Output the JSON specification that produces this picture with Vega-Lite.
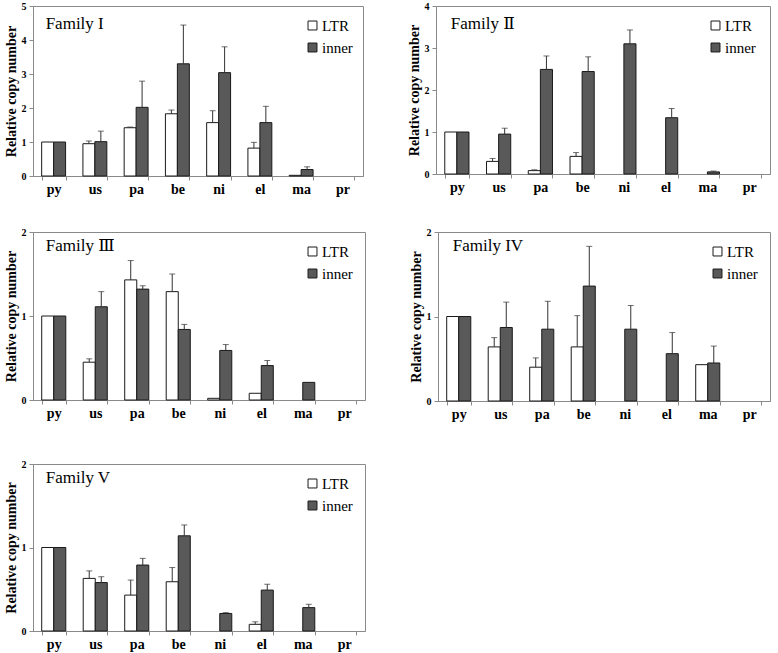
{
  "$schema": "https://vega.github.io/schema/vega-lite/v6.json",
  "background": "white",
  "padding": {"left": 3, "top": 0, "right": 5, "bottom": 0},
  "datasets": {
    "d": [
      {"family": "I", "cat": "py", "type": "LTR", "value": 1},
      {"family": "I", "cat": "py", "type": "inner", "value": 1},
      {"family": "I", "cat": "us", "type": "LTR", "value": 0.95, "hi": 1.03},
      {"family": "I", "cat": "us", "type": "inner", "value": 1.01, "hi": 1.32},
      {"family": "I", "cat": "pa", "type": "LTR", "value": 1.42, "hi": 1.44},
      {"family": "I", "cat": "pa", "type": "inner", "value": 2.02, "hi": 2.79},
      {"family": "I", "cat": "be", "type": "LTR", "value": 1.83, "hi": 1.94},
      {"family": "I", "cat": "be", "type": "inner", "value": 3.3, "hi": 4.44},
      {"family": "I", "cat": "ni", "type": "LTR", "value": 1.57, "hi": 1.92},
      {"family": "I", "cat": "ni", "type": "inner", "value": 3.04, "hi": 3.8},
      {"family": "I", "cat": "el", "type": "LTR", "value": 0.82, "hi": 0.99},
      {"family": "I", "cat": "el", "type": "inner", "value": 1.57, "hi": 2.05},
      {"family": "I", "cat": "ma", "type": "LTR", "value": 0.02},
      {"family": "I", "cat": "ma", "type": "inner", "value": 0.19, "hi": 0.27},
      {"family": "I", "cat": "pr", "type": "LTR", "value": 0},
      {"family": "I", "cat": "pr", "type": "inner", "value": 0},

      {"family": "II", "cat": "py", "type": "LTR", "value": 1},
      {"family": "II", "cat": "py", "type": "inner", "value": 1},
      {"family": "II", "cat": "us", "type": "LTR", "value": 0.3, "hi": 0.37},
      {"family": "II", "cat": "us", "type": "inner", "value": 0.95, "hi": 1.09},
      {"family": "II", "cat": "pa", "type": "LTR", "value": 0.08, "hi": 0.1},
      {"family": "II", "cat": "pa", "type": "inner", "value": 2.49, "hi": 2.81},
      {"family": "II", "cat": "be", "type": "LTR", "value": 0.42, "hi": 0.51},
      {"family": "II", "cat": "be", "type": "inner", "value": 2.44, "hi": 2.79},
      {"family": "II", "cat": "ni", "type": "LTR", "value": 0},
      {"family": "II", "cat": "ni", "type": "inner", "value": 3.1, "hi": 3.43},
      {"family": "II", "cat": "el", "type": "LTR", "value": 0},
      {"family": "II", "cat": "el", "type": "inner", "value": 1.34, "hi": 1.56},
      {"family": "II", "cat": "ma", "type": "LTR", "value": 0},
      {"family": "II", "cat": "ma", "type": "inner", "value": 0.05, "hi": 0.07},
      {"family": "II", "cat": "pr", "type": "LTR", "value": 0},
      {"family": "II", "cat": "pr", "type": "inner", "value": 0},

      {"family": "III", "cat": "py", "type": "LTR", "value": 1},
      {"family": "III", "cat": "py", "type": "inner", "value": 1},
      {"family": "III", "cat": "us", "type": "LTR", "value": 0.45, "hi": 0.49},
      {"family": "III", "cat": "us", "type": "inner", "value": 1.11, "hi": 1.29},
      {"family": "III", "cat": "pa", "type": "LTR", "value": 1.43, "hi": 1.66},
      {"family": "III", "cat": "pa", "type": "inner", "value": 1.32, "hi": 1.36},
      {"family": "III", "cat": "be", "type": "LTR", "value": 1.29, "hi": 1.5},
      {"family": "III", "cat": "be", "type": "inner", "value": 0.84, "hi": 0.9},
      {"family": "III", "cat": "ni", "type": "LTR", "value": 0.02},
      {"family": "III", "cat": "ni", "type": "inner", "value": 0.59, "hi": 0.66},
      {"family": "III", "cat": "el", "type": "LTR", "value": 0.08},
      {"family": "III", "cat": "el", "type": "inner", "value": 0.41, "hi": 0.47},
      {"family": "III", "cat": "ma", "type": "LTR", "value": 0},
      {"family": "III", "cat": "ma", "type": "inner", "value": 0.21},
      {"family": "III", "cat": "pr", "type": "LTR", "value": 0},
      {"family": "III", "cat": "pr", "type": "inner", "value": 0},

      {"family": "IV", "cat": "py", "type": "LTR", "value": 1},
      {"family": "IV", "cat": "py", "type": "inner", "value": 1},
      {"family": "IV", "cat": "us", "type": "LTR", "value": 0.64, "hi": 0.75},
      {"family": "IV", "cat": "us", "type": "inner", "value": 0.87, "hi": 1.17},
      {"family": "IV", "cat": "pa", "type": "LTR", "value": 0.4, "hi": 0.51},
      {"family": "IV", "cat": "pa", "type": "inner", "value": 0.85, "hi": 1.18},
      {"family": "IV", "cat": "be", "type": "LTR", "value": 0.64, "hi": 1.01},
      {"family": "IV", "cat": "be", "type": "inner", "value": 1.36, "hi": 1.83},
      {"family": "IV", "cat": "ni", "type": "LTR", "value": 0},
      {"family": "IV", "cat": "ni", "type": "inner", "value": 0.85, "hi": 1.13},
      {"family": "IV", "cat": "el", "type": "LTR", "value": 0},
      {"family": "IV", "cat": "el", "type": "inner", "value": 0.56, "hi": 0.81},
      {"family": "IV", "cat": "ma", "type": "LTR", "value": 0.43},
      {"family": "IV", "cat": "ma", "type": "inner", "value": 0.45, "hi": 0.65},
      {"family": "IV", "cat": "pr", "type": "LTR", "value": 0},
      {"family": "IV", "cat": "pr", "type": "inner", "value": 0},

      {"family": "V", "cat": "py", "type": "LTR", "value": 1},
      {"family": "V", "cat": "py", "type": "inner", "value": 1},
      {"family": "V", "cat": "us", "type": "LTR", "value": 0.63, "hi": 0.72},
      {"family": "V", "cat": "us", "type": "inner", "value": 0.58, "hi": 0.65},
      {"family": "V", "cat": "pa", "type": "LTR", "value": 0.43, "hi": 0.61},
      {"family": "V", "cat": "pa", "type": "inner", "value": 0.79, "hi": 0.87},
      {"family": "V", "cat": "be", "type": "LTR", "value": 0.59, "hi": 0.76},
      {"family": "V", "cat": "be", "type": "inner", "value": 1.14, "hi": 1.27},
      {"family": "V", "cat": "ni", "type": "LTR", "value": 0},
      {"family": "V", "cat": "ni", "type": "inner", "value": 0.21, "hi": 0.22},
      {"family": "V", "cat": "el", "type": "LTR", "value": 0.08, "hi": 0.11},
      {"family": "V", "cat": "el", "type": "inner", "value": 0.49, "hi": 0.56},
      {"family": "V", "cat": "ma", "type": "LTR", "value": 0},
      {"family": "V", "cat": "ma", "type": "inner", "value": 0.28, "hi": 0.32},
      {"family": "V", "cat": "pr", "type": "LTR", "value": 0},
      {"family": "V", "cat": "pr", "type": "inner", "value": 0}
    ]
  },
  "spacing": 36,
  "resolve": {"scale": {"x": "independent", "y": "independent", "color": "independent", "xOffset": "independent"}, "legend": {"color": "independent"}},
  "vconcat": [
    {
      "spacing": 29,
      "resolve": {"scale": {"x": "independent", "y": "independent", "color": "independent", "xOffset": "independent"}, "legend": {"color": "independent"}},
      "vconcat": [
        {
          "spacing": 42,
          "resolve": {"scale": {"x": "independent", "y": "independent", "color": "independent", "xOffset": "independent"}, "legend": {"color": "independent"}},
          "hconcat": [
            {
              "width": 330, "height": 170,
              "layer": [
                {"data": {"name": "d"}, "transform": [{"filter": "datum.family == 'I' && datum.value > 0"}],
                 "mark": {"type": "bar", "stroke": "#1a1a1a", "strokeWidth": 1},
                 "encoding": {
                   "x": {"field": "cat", "type": "nominal", "scale": {"domain": ["py", "us", "pa", "be", "ni", "el", "ma", "pr"], "paddingInner": 0.42, "paddingOuter": 0.21}},
                   "xOffset": {"field": "type", "type": "nominal", "scale": {"domain": ["LTR", "inner"], "paddingInner": 0, "paddingOuter": 0}},
                   "y": {"field": "value", "type": "quantitative", "scale": {"domain": [0, 5]}, "axis": {"values": [0, 1, 2, 3, 4, 5], "tickCount": 12, "labelExpr": "format(datum.value, 'd')", "labelOverlap": false, "title": "Relative copy number"}},
                   "color": {"field": "type", "type": "nominal", "scale": {"domain": ["LTR", "inner"], "range": ["white", "#595959"]}, "legend": {"title": null}}
                 }},
                {"data": {"name": "d"}, "transform": [{"filter": "datum.family == 'I' && datum.hi != null"}],
                 "mark": {"type": "rule", "color": "#333", "strokeWidth": 1},
                 "encoding": {
                   "x": {"field": "cat", "type": "nominal"},
                   "xOffset": {"field": "type", "type": "nominal"},
                   "y": {"field": "value", "type": "quantitative", "axis": {"values": [0, 1, 2, 3, 4, 5], "tickCount": 12, "labelExpr": "format(datum.value, 'd')", "labelOverlap": false, "title": "Relative copy number"}}, "y2": {"field": "hi"}}},
                {"data": {"name": "d"}, "transform": [{"filter": "datum.family == 'I' && datum.hi != null"}],
                 "mark": {"type": "tick", "color": "#333", "size": 6, "thickness": 1, "orient": "horizontal"},
                 "encoding": {
                   "x": {"field": "cat", "type": "nominal"},
                   "xOffset": {"field": "type", "type": "nominal"},
                   "y": {"field": "hi", "type": "quantitative", "axis": {"values": [0, 1, 2, 3, 4, 5], "tickCount": 12, "labelExpr": "format(datum.value, 'd')", "labelOverlap": false, "title": "Relative copy number"}}}},
                {"data": {"values": [{"label": "Family I"}]},
                 "mark": {"type": "text", "align": "left", "baseline": "middle", "fontSize": 17, "font": "Liberation Serif", "color": "black", "dx": 4},
                 "encoding": {"x": {"datum": "py", "type": "nominal", "bandPosition": 0}, "y": {"datum": 4.46, "type": "quantitative"}, "text": {"field": "label"}}}
              ]
            },
            {
              "width": 334, "height": 168,
              "layer": [
                {"data": {"name": "d"}, "transform": [{"filter": "datum.family == 'II' && datum.value > 0"}],
                 "mark": {"type": "bar", "stroke": "#1a1a1a", "strokeWidth": 1},
                 "encoding": {
                   "x": {"field": "cat", "type": "nominal", "scale": {"domain": ["py", "us", "pa", "be", "ni", "el", "ma", "pr"], "paddingInner": 0.42, "paddingOuter": 0.21}},
                   "xOffset": {"field": "type", "type": "nominal", "scale": {"domain": ["LTR", "inner"], "paddingInner": 0, "paddingOuter": 0}},
                   "y": {"field": "value", "type": "quantitative", "scale": {"domain": [0, 4]}, "axis": {"values": [0, 1, 2, 3, 4], "tickCount": 12, "labelExpr": "format(datum.value, 'd')", "labelOverlap": false, "title": "Relative copy number"}},
                   "color": {"field": "type", "type": "nominal", "scale": {"domain": ["LTR", "inner"], "range": ["white", "#595959"]}, "legend": {"title": null}}
                 }},
                {"data": {"name": "d"}, "transform": [{"filter": "datum.family == 'II' && datum.hi != null"}],
                 "mark": {"type": "rule", "color": "#333", "strokeWidth": 1},
                 "encoding": {
                   "x": {"field": "cat", "type": "nominal"},
                   "xOffset": {"field": "type", "type": "nominal"},
                   "y": {"field": "value", "type": "quantitative", "axis": {"values": [0, 1, 2, 3, 4], "tickCount": 12, "labelExpr": "format(datum.value, 'd')", "labelOverlap": false, "title": "Relative copy number"}}, "y2": {"field": "hi"}}},
                {"data": {"name": "d"}, "transform": [{"filter": "datum.family == 'II' && datum.hi != null"}],
                 "mark": {"type": "tick", "color": "#333", "size": 6, "thickness": 1, "orient": "horizontal"},
                 "encoding": {
                   "x": {"field": "cat", "type": "nominal"},
                   "xOffset": {"field": "type", "type": "nominal"},
                   "y": {"field": "hi", "type": "quantitative", "axis": {"values": [0, 1, 2, 3, 4], "tickCount": 12, "labelExpr": "format(datum.value, 'd')", "labelOverlap": false, "title": "Relative copy number"}}}},
                {"data": {"values": [{"label": "Family Ⅱ"}]},
                 "mark": {"type": "text", "align": "left", "baseline": "middle", "fontSize": 17, "font": "Liberation Serif, DejaVu Serif", "color": "black", "dx": 6},
                 "encoding": {"x": {"datum": "py", "type": "nominal", "bandPosition": 0}, "y": {"datum": 3.57, "type": "quantitative"}, "text": {"field": "label"}}}
              ]
            }
          ]
        },
        {
          "spacing": 42,
          "resolve": {"scale": {"x": "independent", "y": "independent", "color": "independent", "xOffset": "independent"}, "legend": {"color": "independent"}},
          "hconcat": [
            {
              "width": 332, "height": 168,
              "layer": [
                {"data": {"name": "d"}, "transform": [{"filter": "datum.family == 'III' && datum.value > 0"}],
                 "mark": {"type": "bar", "stroke": "#1a1a1a", "strokeWidth": 1},
                 "encoding": {
                   "x": {"field": "cat", "type": "nominal", "scale": {"domain": ["py", "us", "pa", "be", "ni", "el", "ma", "pr"], "paddingInner": 0.42, "paddingOuter": 0.21}},
                   "xOffset": {"field": "type", "type": "nominal", "scale": {"domain": ["LTR", "inner"], "paddingInner": 0, "paddingOuter": 0}},
                   "y": {"field": "value", "type": "quantitative", "scale": {"domain": [0, 2]}, "axis": {"values": [0, 1, 2], "tickCount": 12, "labelExpr": "format(datum.value, 'd')", "labelOverlap": false, "title": "Relative copy number"}},
                   "color": {"field": "type", "type": "nominal", "scale": {"domain": ["LTR", "inner"], "range": ["white", "#595959"]}, "legend": {"title": null}}
                 }},
                {"data": {"name": "d"}, "transform": [{"filter": "datum.family == 'III' && datum.hi != null"}],
                 "mark": {"type": "rule", "color": "#333", "strokeWidth": 1},
                 "encoding": {
                   "x": {"field": "cat", "type": "nominal"},
                   "xOffset": {"field": "type", "type": "nominal"},
                   "y": {"field": "value", "type": "quantitative", "axis": {"values": [0, 1, 2], "tickCount": 12, "labelExpr": "format(datum.value, 'd')", "labelOverlap": false, "title": "Relative copy number"}}, "y2": {"field": "hi"}}},
                {"data": {"name": "d"}, "transform": [{"filter": "datum.family == 'III' && datum.hi != null"}],
                 "mark": {"type": "tick", "color": "#333", "size": 6, "thickness": 1, "orient": "horizontal"},
                 "encoding": {
                   "x": {"field": "cat", "type": "nominal"},
                   "xOffset": {"field": "type", "type": "nominal"},
                   "y": {"field": "hi", "type": "quantitative", "axis": {"values": [0, 1, 2], "tickCount": 12, "labelExpr": "format(datum.value, 'd')", "labelOverlap": false, "title": "Relative copy number"}}}},
                {"data": {"values": [{"label": "Family Ⅲ"}]},
                 "mark": {"type": "text", "align": "left", "baseline": "middle", "fontSize": 17, "font": "Liberation Serif, DejaVu Serif", "color": "black", "dx": 4},
                 "encoding": {"x": {"datum": "py", "type": "nominal", "bandPosition": 0}, "y": {"datum": 1.83, "type": "quantitative"}, "text": {"field": "label"}}}
              ]
            },
            {
              "width": 332, "height": 169,
              "layer": [
                {"data": {"name": "d"}, "transform": [{"filter": "datum.family == 'IV' && datum.value > 0"}],
                 "mark": {"type": "bar", "stroke": "#1a1a1a", "strokeWidth": 1},
                 "encoding": {
                   "x": {"field": "cat", "type": "nominal", "scale": {"domain": ["py", "us", "pa", "be", "ni", "el", "ma", "pr"], "paddingInner": 0.42, "paddingOuter": 0.21}},
                   "xOffset": {"field": "type", "type": "nominal", "scale": {"domain": ["LTR", "inner"], "paddingInner": 0, "paddingOuter": 0}},
                   "y": {"field": "value", "type": "quantitative", "scale": {"domain": [0, 2]}, "axis": {"values": [0, 1, 2], "tickCount": 12, "labelExpr": "format(datum.value, 'd')", "labelOverlap": false, "title": "Relative copy number"}},
                   "color": {"field": "type", "type": "nominal", "scale": {"domain": ["LTR", "inner"], "range": ["white", "#595959"]}, "legend": {"title": null}}
                 }},
                {"data": {"name": "d"}, "transform": [{"filter": "datum.family == 'IV' && datum.hi != null"}],
                 "mark": {"type": "rule", "color": "#333", "strokeWidth": 1},
                 "encoding": {
                   "x": {"field": "cat", "type": "nominal"},
                   "xOffset": {"field": "type", "type": "nominal"},
                   "y": {"field": "value", "type": "quantitative", "axis": {"values": [0, 1, 2], "tickCount": 12, "labelExpr": "format(datum.value, 'd')", "labelOverlap": false, "title": "Relative copy number"}}, "y2": {"field": "hi"}}},
                {"data": {"name": "d"}, "transform": [{"filter": "datum.family == 'IV' && datum.hi != null"}],
                 "mark": {"type": "tick", "color": "#333", "size": 6, "thickness": 1, "orient": "horizontal"},
                 "encoding": {
                   "x": {"field": "cat", "type": "nominal"},
                   "xOffset": {"field": "type", "type": "nominal"},
                   "y": {"field": "hi", "type": "quantitative", "axis": {"values": [0, 1, 2], "tickCount": 12, "labelExpr": "format(datum.value, 'd')", "labelOverlap": false, "title": "Relative copy number"}}}},
                {"data": {"values": [{"label": "Family IV"}]},
                 "mark": {"type": "text", "align": "left", "baseline": "middle", "fontSize": 17, "font": "Liberation Serif", "color": "black", "dx": 6},
                 "encoding": {"x": {"datum": "py", "type": "nominal", "bandPosition": 0}, "y": {"datum": 1.83, "type": "quantitative"}, "text": {"field": "label"}}}
              ]
            }
          ]
        }
      ]
    },
    {
      "width": 332, "height": 167,
      "layer": [
        {"data": {"name": "d"}, "transform": [{"filter": "datum.family == 'V' && datum.value > 0"}],
         "mark": {"type": "bar", "stroke": "#1a1a1a", "strokeWidth": 1},
         "encoding": {
           "x": {"field": "cat", "type": "nominal", "scale": {"domain": ["py", "us", "pa", "be", "ni", "el", "ma", "pr"], "paddingInner": 0.42, "paddingOuter": 0.21}},
           "xOffset": {"field": "type", "type": "nominal", "scale": {"domain": ["LTR", "inner"], "paddingInner": 0, "paddingOuter": 0}},
           "y": {"field": "value", "type": "quantitative", "scale": {"domain": [0, 2]}, "axis": {"values": [0, 1, 2], "tickCount": 12, "labelExpr": "format(datum.value, 'd')", "labelOverlap": false, "title": "Relative copy number"}},
           "color": {"field": "type", "type": "nominal", "scale": {"domain": ["LTR", "inner"], "range": ["white", "#595959"]}, "legend": {"title": null}}
         }},
        {"data": {"name": "d"}, "transform": [{"filter": "datum.family == 'V' && datum.hi != null"}],
         "mark": {"type": "rule", "color": "#333", "strokeWidth": 1},
         "encoding": {
           "x": {"field": "cat", "type": "nominal"},
           "xOffset": {"field": "type", "type": "nominal"},
           "y": {"field": "value", "type": "quantitative", "axis": {"values": [0, 1, 2], "tickCount": 12, "labelExpr": "format(datum.value, 'd')", "labelOverlap": false, "title": "Relative copy number"}}, "y2": {"field": "hi"}}},
        {"data": {"name": "d"}, "transform": [{"filter": "datum.family == 'V' && datum.hi != null"}],
         "mark": {"type": "tick", "color": "#333", "size": 6, "thickness": 1, "orient": "horizontal"},
         "encoding": {
           "x": {"field": "cat", "type": "nominal"},
           "xOffset": {"field": "type", "type": "nominal"},
           "y": {"field": "hi", "type": "quantitative", "axis": {"values": [0, 1, 2], "tickCount": 12, "labelExpr": "format(datum.value, 'd')", "labelOverlap": false, "title": "Relative copy number"}}}},
        {"data": {"values": [{"label": "Family V"}]},
         "mark": {"type": "text", "align": "left", "baseline": "middle", "fontSize": 17, "font": "Liberation Serif", "color": "black", "dx": 4},
         "encoding": {"x": {"datum": "py", "type": "nominal", "bandPosition": 0}, "y": {"datum": 1.83, "type": "quantitative"}, "text": {"field": "label"}}}
      ]
    }
  ],
  "config": {
    "font": "Liberation Serif",
    "view": {"stroke": "#8a8a8a", "strokeWidth": 1},
    "axisX": {"title": null, "labelAngle": 0, "labelFontSize": 14, "labelFontWeight": "bold", "labelColor": "black", "labelPadding": 2, "tickBand": "extent", "tickSize": 4, "domainColor": "#8a8a8a", "tickColor": "#8a8a8a", "grid": false},
    "axisY": {"titleFontSize": 14, "titleFontWeight": "bold", "titleColor": "black", "titlePadding": 3, "labelFontSize": 10, "labelFontWeight": "bold", "labelColor": "black", "labelPadding": 3, "tickSize": 4, "domainColor": "#8a8a8a", "tickColor": "#8a8a8a", "grid": false},
    "legend": {"orient": "none", "legendX": 272, "legendY": 12, "symbolType": "square", "symbolSize": 80, "symbolStrokeColor": "#1a1a1a", "symbolStrokeWidth": 1, "labelFont": "Liberation Serif", "labelFontSize": 15, "labelColor": "black", "rowPadding": 6, "labelOffset": 2}
  }
}
